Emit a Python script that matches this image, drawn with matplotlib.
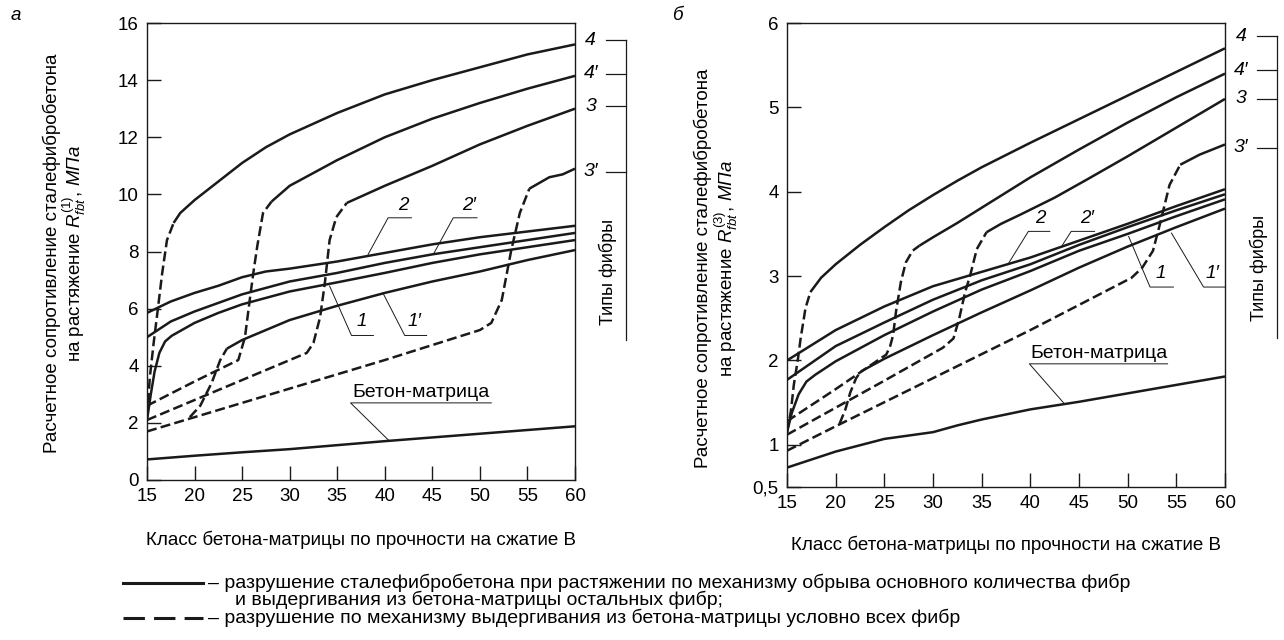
import matplotlib
matplotlib.use("Agg")
import matplotlib.pyplot as plt
from matplotlib.lines import Line2D

plt.rcParams['font.family'] = ['Liberation Sans', 'DejaVu Sans']
plt.rcParams['mathtext.fontset'] = 'custom'
plt.rcParams['mathtext.rm'] = 'Liberation Sans'
plt.rcParams['mathtext.it'] = 'Liberation Sans:italic'
plt.rcParams['mathtext.bf'] = 'Liberation Sans:bold'

# ---------------- panel a : R_fbt(1) ----------------
a_mat_x = [15, 20, 25, 30, 35, 40, 45, 50, 55, 60]
a_mat_y = [0.72, 0.85, 0.97, 1.08, 1.22, 1.36, 1.49, 1.62, 1.75, 1.88]

a_2_x = [15, 17.5, 20, 22.5, 25, 27.5, 30, 35, 40, 45, 50, 55, 60]
a_2_y = [5.85, 6.25, 6.55, 6.8, 7.1, 7.3, 7.4, 7.65, 7.95, 8.25, 8.5, 8.7, 8.9]
a_2p_x = [15, 17.5, 20, 22.5, 25, 30, 35, 40, 45, 50, 55, 60]
a_2p_y = [5.0, 5.55, 5.9, 6.2, 6.5, 6.95, 7.25, 7.6, 7.9, 8.15, 8.4, 8.65]
a_1_x = [15, 15.4, 15.8, 16.3, 16.9, 17.6, 20, 22.5, 25, 30, 35, 40, 45, 50, 55, 60]
a_1_y = [2.1, 3.0, 3.8, 4.45, 4.85, 5.05, 5.5, 5.85, 6.15, 6.6, 6.92, 7.25, 7.6, 7.9, 8.15, 8.4]
a_1p_dx = [19.5, 20.6, 21.8, 22.7, 23.4]
a_1p_dy = [2.2, 2.6, 3.4, 4.2, 4.6]
a_1p_x = [23.4, 25, 27.5, 30, 35, 40, 45, 50, 55, 60]
a_1p_y = [4.6, 4.9, 5.25, 5.6, 6.1, 6.55, 6.95, 7.3, 7.7, 8.05]

a_4_dx = [15, 15.3, 15.7, 16.05, 16.6, 17.1, 17.8]
a_4_dy = [2.2, 3.6, 4.8, 5.74, 7.25, 8.4, 9.0]
a_4_x = [17.8, 18.5, 20, 22.5, 25, 27.5, 30, 35, 40, 45, 50, 55, 60]
a_4_y = [9.0, 9.35, 9.8, 10.45, 11.1, 11.65, 12.1, 12.85, 13.5, 14.0, 14.45, 14.9, 15.25]
a_4p_dx = [15, 20, 24.6, 25.3, 25.8, 26.2, 26.6, 27.2, 28.1]
a_4p_dy = [2.6, 3.45, 4.2, 5.0, 6.3, 7.3, 8.2, 9.35, 9.75]
a_4p_x = [28.1, 30, 32.5, 35, 40, 45, 50, 55, 60]
a_4p_y = [9.75, 10.3, 10.75, 11.2, 12.0, 12.65, 13.2, 13.7, 14.15]
a_3_dx = [15, 20, 25, 31.8, 32.5, 33.2, 33.7, 34.2, 34.9, 36]
a_3_dy = [2.1, 2.8, 3.5, 4.45, 4.8, 5.7, 6.9, 8.4, 9.2, 9.7]
a_3_x = [36, 40, 45, 50, 55, 60]
a_3_y = [9.7, 10.3, 11.0, 11.75, 12.4, 13.0]
a_3p_dx = [15, 20, 30, 40, 50, 51.2, 52.3, 53.3, 54.2, 55.2]
a_3p_dy = [1.7, 2.2, 3.2, 4.2, 5.25, 5.5, 6.3, 8.05, 9.35, 10.2]
a_3p_x = [55.2, 57.3, 58.7, 60]
a_3p_y = [10.2, 10.6, 10.7, 10.9]

# ---------------- panel b : R_fbt(3) ----------------
b_mat_x = [15, 20, 25, 27.5, 30, 32.5, 35, 40, 45, 50, 55, 60]
b_mat_y = [0.73, 0.92, 1.07, 1.11, 1.15, 1.23, 1.3, 1.42, 1.51, 1.61, 1.71, 1.81]

b_2_x = [15, 20, 25, 30, 35, 40, 45, 50, 55, 60]
b_2_y = [2.0, 2.36, 2.64, 2.88, 3.05, 3.22, 3.42, 3.62, 3.83, 4.03]
b_2p_x = [15, 20, 25, 30, 35, 40, 45, 50, 55, 60]
b_2p_y = [1.77, 2.17, 2.45, 2.72, 2.95, 3.14, 3.37, 3.58, 3.78, 3.97]
b_1_x = [15, 15.5, 16.2, 17.0, 17.9, 20, 25, 30, 35, 40, 45, 50, 55, 60]
b_1_y = [1.15, 1.38, 1.6, 1.75, 1.83, 1.99, 2.3, 2.58, 2.84, 3.06, 3.3, 3.5, 3.71, 3.91]
b_1p_dx = [20.4, 21.0, 21.5, 22.1, 22.6]
b_1p_dy = [1.25, 1.42, 1.62, 1.79, 1.87]
b_1p_x = [22.6, 25, 30, 35, 40, 45, 50, 55, 60]
b_1p_y = [1.87, 2.02, 2.3, 2.57, 2.83, 3.1, 3.35, 3.58, 3.8]

b_4_dx = [15, 15.4, 15.7, 16.1, 16.4, 16.9, 17.4]
b_4_dy = [1.15, 1.4, 1.71, 2.0, 2.26, 2.62, 2.81]
b_4_x = [17.4, 18.5, 20, 22.5, 25, 27.5, 30, 32.5, 35, 40, 45, 50, 55, 60]
b_4_y = [2.81, 2.98, 3.14, 3.37, 3.58, 3.78, 3.96, 4.13, 4.29, 4.58, 4.86, 5.14, 5.42, 5.7]
b_4p_dx = [15, 20, 25.2, 25.6, 25.9, 26.2, 26.7, 27.2, 27.9, 28.6]
b_4p_dy = [1.28, 1.66, 2.07, 2.17, 2.3, 2.58, 2.93, 3.16, 3.3, 3.36]
b_4p_x = [28.6, 30, 32.5, 35, 37.5, 40, 45, 50, 55, 60]
b_4p_y = [3.36, 3.46, 3.63, 3.81, 3.99, 4.17, 4.5, 4.82, 5.12, 5.4]
b_3_dx = [15, 20, 25, 31, 32.1, 32.7, 33.3, 33.8, 34.5, 35.5]
b_3_dy = [1.12, 1.44, 1.76, 2.15, 2.26, 2.5, 2.81, 3.0, 3.32, 3.52]
b_3_x = [35.5, 37, 39, 42.5, 45.9, 50, 55, 60]
b_3_y = [3.52, 3.62, 3.73, 3.93, 4.15, 4.42, 4.76, 5.1]
b_3p_dx = [15, 20, 30, 40, 50.4, 51.5, 52.6, 53.3, 54.3, 55.4]
b_3p_dy = [0.93, 1.22, 1.79, 2.36, 2.98, 3.1, 3.3, 3.61, 4.08, 4.32]
b_3p_x = [55.4, 57.4, 60]
b_3p_y = [4.32, 4.44, 4.56]

x_ticks = [15, 20, 25, 30, 35, 40, 45, 50, 55, 60]
a_yticks = [0, 2, 4, 6, 8, 10, 12, 14, 16]
b_yticks = [0.5, 1, 2, 3, 4, 5, 6]
b_ytick_labels = ['0,5', '1', '2', '3', '4', '5', '6']
fiber_labels = ['4', '4\u2032', '3', '3\u2032']
a_fiber_y = [15.4, 14.23, 13.08, 10.8]
b_fiber_y = [5.84, 5.44, 5.1, 4.52]

W, H = 1284, 640
fig = plt.figure(figsize=(W / 100, H / 100), dpi=100)

def px_axes(l, t, r, b):
    return fig.add_axes([l / W, 1 - b / H, (r - l) / W, (b - t) / H])

ax_a = px_axes(147, 23, 575, 480)
ax_b = px_axes(787, 23, 1225, 487)

LW = 1.8
DASH = (0, (4, 1.7))
FS_TICK = 13.5
FS_LAB = 13.5
FS_NOTE = 14
INK = '#1a1a1a'

def solid(ax, x, y):
    ax.plot(x, y, color=INK, lw=LW, solid_capstyle='butt', solid_joinstyle='round')

def dashed(ax, x, y):
    ax.plot(x, y, color=INK, lw=LW, linestyle=DASH, dash_capstyle='butt')

def leader(ax, pts, label, tx, ty):
    xs = [p[0] for p in pts]
    ys = [p[1] for p in pts]
    ax.plot(xs, ys, color=INK, lw=0.7, clip_on=False)
    ax.text(tx, ty, label, fontsize=FS_LAB, style='italic', ha='center', va='center')

def style_axes(ax, yticks, ylim):
    ax.set_xlim(15, 60)
    ax.set_ylim(*ylim)
    ax.set_xticks(x_ticks)
    ax.set_yticks(yticks)
    ax.tick_params(direction='in', length=10, width=1.0, labelsize=FS_TICK,
                   top=False, right=False, pad=6, color=INK)
    for s in ax.spines.values():
        s.set_linewidth(1.0)
        s.set_color(INK)

def fiber_bracket(ax, ys, y_end, text_y):
    for lab, yv in zip(fiber_labels, ys):
        ax.text(61.65, yv, lab, fontsize=FS_NOTE, style='italic', ha='center', va='center', clip_on=False)
        ax.plot([63.3, 65.35], [yv, yv], color=INK, lw=0.9, clip_on=False)
    ax.plot([65.35, 65.35], [ys[0], y_end], color=INK, lw=0.9, clip_on=False)
    ax.text(63.5, text_y, 'Типы фибры', rotation=90, fontsize=13, ha='center', va='center', clip_on=False)

# ---- panel a
ax = ax_a
solid(ax, a_mat_x, a_mat_y)
solid(ax, a_2_x, a_2_y)
solid(ax, a_2p_x, a_2p_y)
solid(ax, a_1_x, a_1_y)
dashed(ax, a_1p_dx, a_1p_dy)
solid(ax, a_1p_x, a_1p_y)
dashed(ax, a_4_dx, a_4_dy)
solid(ax, a_4_x, a_4_y)
dashed(ax, a_4p_dx, a_4p_dy)
solid(ax, a_4p_x, a_4p_y)
dashed(ax, a_3_dx, a_3_dy)
solid(ax, a_3_x, a_3_y)
dashed(ax, a_3p_dx, a_3p_dy)
solid(ax, a_3p_x, a_3p_y)
style_axes(ax, a_yticks, (0, 16))
leader(ax, [(38.25, 7.9), (40.35, 9.18), (42.8, 9.18)], '2', 41.9, 9.62)
leader(ax, [(45.1, 7.9), (47.2, 9.18), (49.7, 9.18)], '2\u2032', 48.9, 9.62)
leader(ax, [(34.2, 6.79), (36.5, 5.06), (38.8, 5.06)], '1', 37.6, 5.55)
leader(ax, [(39.8, 6.55), (42.1, 5.06), (44.4, 5.06)], '1\u2032', 43.1, 5.55)
ax.plot([40.5, 36.4, 51.2], [1.36, 2.7, 2.7], color=INK, lw=0.7)
ax.text(36.6, 2.76, 'Бетон-матрица', fontsize=FS_NOTE, ha='left', va='bottom')
fiber_bracket(ax, a_fiber_y, 4.9, 7.3)

# ---- panel b
ax = ax_b
solid(ax, b_mat_x, b_mat_y)
solid(ax, b_2_x, b_2_y)
solid(ax, b_2p_x, b_2p_y)
solid(ax, b_1_x, b_1_y)
dashed(ax, b_1p_dx, b_1p_dy)
solid(ax, b_1p_x, b_1p_y)
dashed(ax, b_4_dx, b_4_dy)
solid(ax, b_4_x, b_4_y)
dashed(ax, b_4p_dx, b_4p_dy)
solid(ax, b_4p_x, b_4p_y)
dashed(ax, b_3_dx, b_3_dy)
solid(ax, b_3_x, b_3_y)
dashed(ax, b_3p_dx, b_3p_dy)
solid(ax, b_3p_x, b_3p_y)
style_axes(ax, b_yticks, (0.5, 6))
ax.set_yticklabels(b_ytick_labels)
leader(ax, [(37.7, 3.14), (39.8, 3.53), (42.0, 3.53)], '2', 41.0, 3.68)
leader(ax, [(43.2, 3.35), (44.2, 3.53), (46.6, 3.53)], '2\u2032', 45.8, 3.68)
leader(ax, [(50.1, 3.47), (52.3, 2.87), (54.7, 2.87)], '1', 53.4, 3.03)
leader(ax, [(54.5, 3.51), (57.8, 2.87), (60.0, 2.87)], '1\u2032', 58.7, 3.03)
ax.plot([43.4, 39.9, 54.1], [1.5, 1.96, 1.96], color=INK, lw=0.7)
ax.text(40.0, 1.98, 'Бетон-матрица', fontsize=FS_NOTE, ha='left', va='bottom')
fiber_bracket(ax, b_fiber_y, 2.27, 3.1)

# ---- axis titles and panel letters
def ylabel_lines(x1, x2, yc, sup):
    fig.text(x1 / W, 1 - yc / H, 'Расчетное сопротивление сталефибробетона',
             rotation=90, ha='center', va='center', fontsize=FS_LAB)
    fig.text(x2 / W, 1 - yc / H,
             'на растяжение $R^{(%s)}_{fbt}$, $\\mathit{МПа}$' % sup,
             rotation=90, ha='center', va='center', fontsize=FS_LAB)

ylabel_lines(52, 74, 253, '1')
ylabel_lines(703, 726, 268, '3')
fig.text(361 / W, 1 - 540 / H, 'Класс бетона-матрицы по прочности на сжатие В',
         ha='center', va='center', fontsize=FS_LAB)
fig.text(1006 / W, 1 - 545 / H, 'Класс бетона-матрицы по прочности на сжатие В',
         ha='center', va='center', fontsize=FS_LAB)
fig.text(16 / W, 1 - 16 / H, 'а', style='italic', fontsize=FS_LAB, ha='center', va='center')
fig.text(677 / W, 1 - 16 / H, 'б', style='italic', fontsize=FS_LAB, ha='center', va='center')

# ---- explanation of line styles
fig.add_artist(Line2D([123 / W, 203 / W], [1 - 583 / H, 1 - 583 / H],
                      color=INK, lw=2.2, transform=fig.transFigure))
fig.add_artist(Line2D([123 / W, 203 / W], [1 - 618 / H, 1 - 618 / H],
                      color=INK, lw=2.2, linestyle=(0, (7, 3)), transform=fig.transFigure))
fig.text(208 / W, 1 - 583 / H,
         '– разрушение сталефибробетона при растяжении по механизму обрыва основного количества фибр',
         ha='left', va='center', fontsize=FS_NOTE)
fig.text(235 / W, 1 - 600 / H, 'и выдергивания из бетона-матрицы остальных фибр;',
         ha='left', va='center', fontsize=FS_NOTE)
fig.text(208 / W, 1 - 618 / H,
         '– разрушение по механизму выдергивания из бетона-матрицы условно всех фибр',
         ha='left', va='center', fontsize=FS_NOTE)

fig.savefig('out.png', dpi=100)
